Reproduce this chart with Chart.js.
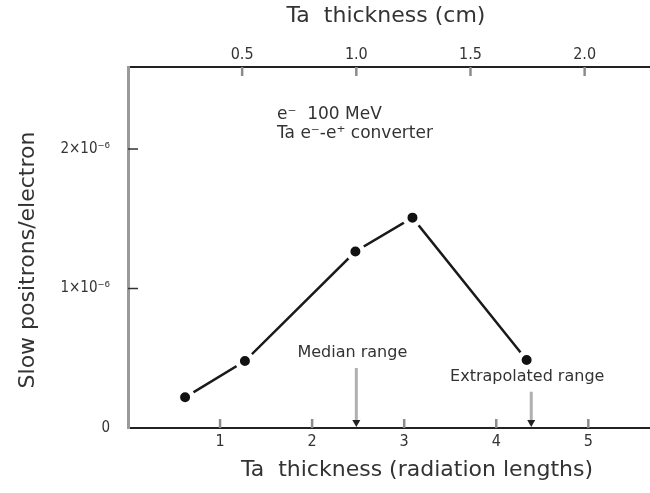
<!DOCTYPE html>
<html>
<head>
<meta charset="utf-8">
<script src="https://cdn.jsdelivr.net/npm/chart.js@4/dist/chart.umd.min.js"></script>
<style>
  html, body { margin: 0; padding: 0; background: #ffffff; }
  #wrap { width: 650px; height: 493px; }
</style>
</head>
<body>
<div id="wrap"><canvas id="c" width="650" height="493"></canvas></div>
<script>
// Slow positron yield per incident electron vs. Ta converter thickness
const radLengths = [0.62, 1.27, 2.47, 3.09, 4.33];          // thickness in radiation lengths
const slowPositrons = [0.22e-6, 0.48e-6, 1.265e-6, 1.508e-6, 0.487e-6];

const radTicks = [1, 2, 3, 4, 5];
const cmTicks = [0.5, 1.0, 1.5, 2.0];
const cmTickLabels = ['0.5', '1.0', '1.5', '2.0'];
const radPerCm = 2.48;                                      // Ta: ~0.41 cm per radiation length
const yTicks = [0, 1e-6, 2e-6];
const yTickLabels = ['0', '1×10⁻⁶', '2×10⁻⁶'];

const rangeNames = ['Median range', 'Extrapolated range'];
const rangeValues = [2.48, 4.38];                           // radiation lengths
const rangeArrowTops = [0.43e-6, 0.26e-6];

const annotationLines = ['e⁻  100 MeV', 'Ta e⁻-e⁺ converter'];

const FONT = "'DejaVu Sans Condensed', 'Liberation Sans Narrow', 'DejaVu Sans', sans-serif";
const WIDE = "'DejaVu Sans', sans-serif";
const TEXT = '#333333';

const decorations = {
  id: 'decorations',
  afterDatasetsDraw(chart) {
    const ctx = chart.ctx;
    const x = chart.scales.x, x2 = chart.scales.x2, y = chart.scales.y;
    const area = chart.chartArea;
    ctx.save();

    // inward tick marks
    ctx.lineCap = 'butt';
    ctx.strokeStyle = '#8c8c8c';
    ctx.lineWidth = 2.5;
    radTicks.forEach(v => {
      const px = x.getPixelForValue(v);
      ctx.beginPath(); ctx.moveTo(px, area.bottom); ctx.lineTo(px, area.bottom - 9); ctx.stroke();
    });
    cmTicks.forEach(c => {
      const px = x2.getPixelForValue(c * radPerCm);
      ctx.beginPath(); ctx.moveTo(px, area.top); ctx.lineTo(px, area.top + 9); ctx.stroke();
    });
    ctx.strokeStyle = '#333';
    ctx.lineWidth = 1.5;
    yTicks.slice(1).forEach(v => {
      const py = y.getPixelForValue(v);
      ctx.beginPath(); ctx.moveTo(area.left, py); ctx.lineTo(area.left + 10, py); ctx.stroke();
    });

    // range arrows with labels
    rangeValues.forEach((v, i) => {
      const px = x.getPixelForValue(v);
      const top = y.getPixelForValue(rangeArrowTops[i]);
      const base = y.getPixelForValue(0);
      ctx.strokeStyle = '#b0b0b0';
      ctx.lineWidth = 3;
      ctx.beginPath(); ctx.moveTo(px, top); ctx.lineTo(px, base - 6); ctx.stroke();
      ctx.fillStyle = '#222';
      ctx.beginPath();
      ctx.moveTo(px - 4, base - 8); ctx.lineTo(px + 4, base - 8); ctx.lineTo(px, base - 1);
      ctx.closePath(); ctx.fill();
      ctx.fillStyle = TEXT;
      ctx.font = '16px ' + WIDE;
      ctx.textAlign = 'center';
      ctx.textBaseline = 'middle';
      ctx.fillText(rangeNames[i], px - 4, top - 15);
    });

    // beam / converter note
    ctx.fillStyle = TEXT;
    ctx.font = '17px ' + WIDE;
    ctx.textAlign = 'left';
    ctx.textBaseline = 'middle';
    annotationLines.forEach((t, i) => ctx.fillText(t, 277, 115 + i * 19));

    // axis titles
    ctx.font = '22px ' + WIDE;
    ctx.textAlign = 'center';
    ctx.fillText('Ta  thickness (radiation lengths)', 417, 470);
    ctx.fillText('Ta  thickness (cm)', 386, 16);
    ctx.translate(28, 260);
    ctx.rotate(-Math.PI / 2);
    ctx.fillText('Slow positrons/electron', 0, 0);
    ctx.restore();
  }
};

new Chart(document.getElementById('c'), {
  type: 'scatter',
  data: {
    datasets: [{
      data: radLengths.map((v, i) => ({ x: v, y: slowPositrons[i] })),
      showLine: true,
      borderColor: '#1a1a1a',
      borderWidth: 2.5,
      // white rim leaves a small gap between each dot and the connecting line
      pointRadius: 7.5,
      pointBackgroundColor: '#111',
      pointBorderColor: '#ffffff',
      pointBorderWidth: 5,
      clip: false
    }]
  },
  options: {
    responsive: false,
    animation: false,
    devicePixelRatio: 1,
    layout: { padding: 0, autoPadding: false },
    plugins: { legend: { display: false }, tooltip: { enabled: false } },
    scales: {
      x: {
        type: 'linear', position: 'bottom', min: 0, max: 5.67,
        afterBuildTicks: s => { s.ticks = radTicks.map(v => ({ value: v })); },
        afterFit: s => { s.height = 65; },
        grid: { display: false, drawTicks: false },
        border: { color: '#222', width: 2 },
        ticks: { color: TEXT, font: { family: FONT, size: 16 }, padding: 4, callback: v => String(v) }
      },
      x2: {
        type: 'linear', position: 'top', min: 0, max: 5.67,
        afterBuildTicks: s => { s.ticks = cmTicks.map(c => ({ value: c * radPerCm })); },
        afterFit: s => { s.height = 67; },
        grid: { display: false, drawTicks: false },
        border: { color: '#222', width: 2 },
        ticks: { color: TEXT, font: { family: FONT, size: 16 }, padding: 3, callback: (v, i) => cmTickLabels[i] }
      },
      y: {
        type: 'linear', position: 'left', min: 0, max: 2.588e-6,
        afterBuildTicks: s => { s.ticks = yTicks.map(v => ({ value: v })); },
        afterFit: s => { s.width = 128; },
        grid: { display: false, drawTicks: false },
        border: { color: '#9a9a9a', width: 3 },
        ticks: { color: TEXT, font: { family: FONT, size: 15 }, padding: 18, callback: (v, i) => yTickLabels[i] }
      }
    }
  },
  plugins: [decorations]
});
</script>
</body>
</html>
